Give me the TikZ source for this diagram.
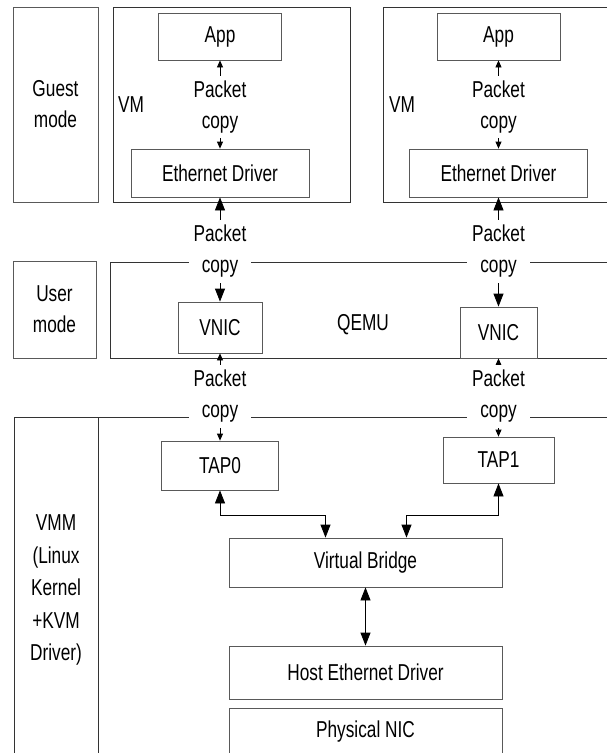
\documentclass[tikz,border=0pt]{standalone}
\usepackage{fontspec}
\setmainfont{Liberation Sans}[FakeStretch=0.75]
\usetikzlibrary{arrows.meta}

\tikzset{
  box/.style={draw=black!65, line width=0.8pt, inner sep=0pt},
  frame/.style={draw=black!80, line width=0.8pt},
  smallflow/.style={{Triangle[length=7pt,width=6pt]}-{Triangle[length=7pt,width=6pt]}, line width=0.8pt},
  bigflow/.style={{Triangle[length=13pt,width=10pt]}-{Triangle[length=13pt,width=10pt]}, line width=0.8pt},
  pkt/.style={fill=white, align=center, inner xsep=5pt, inner ysep=5pt},
}

\begin{document}
\begin{tikzpicture}[x=1pt, y=-1pt, font=\fontsize{23}{31}\selectfont]
    \useasboundingbox (0,0) rectangle (606,753);
    % Modes
    \node[box, minimum width=85pt, minimum height=195pt, align=center] (guest) at (55.5,104.5) {Guest\\mode};
    \node[box, minimum width=83pt, minimum height=97pt, align=center] (user) at (54.5,309.5) {User\\mode};
    % VM frames
    \draw[frame] (113,7) rectangle (350,202);
    \draw[frame] (620,7) -| (383,202) -- (620,202);
    \node (vm0) at (131,105) {VM};
    \node (vm1) at (402,105) {VM};
    % QEMU frame
    \draw[frame] (620,262) -| (110,358) -- (620,358);
    \node (qemu) at (363,325) {QEMU};
    % VMM frame
    \draw[frame] (620,417) -| (14,770);
    \draw[frame] (98,417) -- (98,770);
    \node[align=center, font=\fontsize{23}{32.5}\selectfont] (vmm) at (56,590) {VMM\\(Linux\\Kernel\\+KVM\\Driver)};
    % Guest side
    \node[box, minimum width=123pt, minimum height=47pt] (app0) at (220,36.5) {App};
    \node[box, minimum width=123pt, minimum height=47pt] (app1) at (498.5,36.5) {App};
    \node[box, minimum width=178pt, minimum height=48pt] (eth0) at (220,173) {Ethernet Driver};
    \node[box, minimum width=178pt, minimum height=48pt] (eth1) at (498.5,173) {Ethernet Driver};
    % QEMU side
    \node[box, minimum width=84pt, minimum height=51pt] (vnic0) at (220,327.5) {VNIC};
    \node[box, minimum width=77pt, minimum height=51pt] (vnic1) at (498.5,332.5) {VNIC};
    % Host side
    \node[box, minimum width=117pt, minimum height=49pt] (tap0) at (220,465.5) {TAP0};
    \node[box, minimum width=111pt, minimum height=46pt] (tap1) at (498.5,460) {TAP1};
    \node[box, minimum width=273pt, minimum height=49pt] (bridge) at (365.5,562.5) {Virtual Bridge};
    \node[box, minimum width=273pt, minimum height=53pt] (host) at (365.5,672.5) {Host Ethernet Driver};
    \node[box, minimum width=273pt, minimum height=48pt] (nic) at (365.5,732) {Physical NIC};
    % Packet copies
    \draw[smallflow] (app0) -- (eth0);
    \draw[smallflow] (app1) -- (eth1);
    \draw[bigflow] (eth0) -- (vnic0);
    \draw[bigflow] (eth1) -- (vnic1);
    \draw[smallflow] (vnic0) -- (tap0);
    \draw[smallflow] (vnic1) -- (tap1);
    % Bridge links
    \coordinate (split) at (0,515);
    \draw[bigflow] (tap0.south) -- (tap0.south |- split) -| ([xshift=-40pt]bridge.north);
    \draw[bigflow] (tap1.south) -- (tap1.south |- split) -| ([xshift=41pt]bridge.north);
    \draw[bigflow] (bridge) -- (host);
    % Labels
    \node[pkt] (copy0) at (220,107) {Packet\\copy};
    \node[pkt] (copy1) at (498.5,107) {Packet\\copy};
    \node[pkt] (copy2) at (220,251.5) {Packet\\copy};
    \node[pkt] (copy3) at (498.5,251.5) {Packet\\copy};
    \node[pkt] (copy4) at (220,396.5) {Packet\\copy};
    \node[pkt] (copy5) at (498.5,396.5) {Packet\\copy};
\end{tikzpicture}
\end{document}
